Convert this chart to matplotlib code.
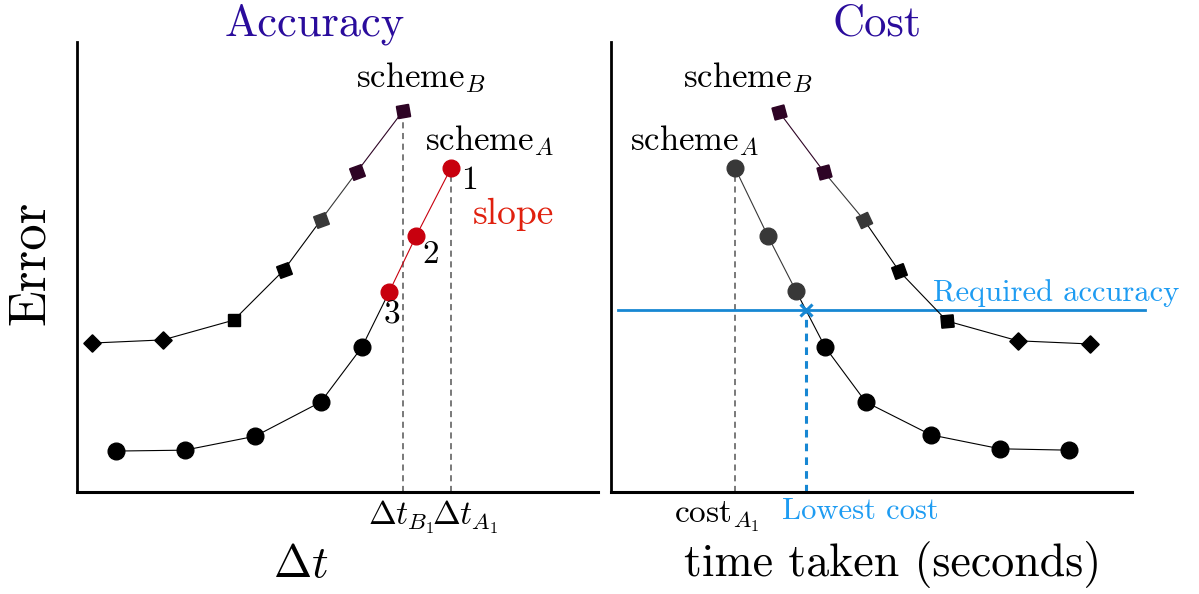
import matplotlib
matplotlib.use("Agg")
import matplotlib.pyplot as plt

plt.rcParams['font.family'] = 'serif'
plt.rcParams['font.serif'] = ['cmr10', 'DejaVu Serif']
plt.rcParams['mathtext.fontset'] = 'cm'
plt.rcParams['axes.unicode_minus'] = False

# colours
BLK = '#000000'
GRY = '#383838'
PUR = '#2e0425'
RED = '#c8000e'
TITLE = '#2a0c9c'
BLUE_LINE = '#1787d3'
BLUE_TXT = '#1e9cf2'

# ---- accuracy panel: error vs dt
acc_a_x = [0.75, 2.07, 3.42, 4.68, 5.47, 5.99, 6.51, 7.18]
acc_a_y = [0.91, 0.93, 1.24, 2.00, 3.22, 4.44, 5.69, 7.20]
acc_a_col = [BLK, BLK, BLK, BLK, BLK, RED, RED, RED]

acc_b_x = [0.29, 1.65, 3.01, 3.97, 4.68, 5.37, 6.26]
acc_b_y = [3.31, 3.38, 3.82, 4.93, 6.04, 7.11, 8.47]
acc_b_col = [BLK, BLK, BLK, BLK, GRY, PUR, PUR]
acc_b_rot = [45, 45, 0, 20, 20, 20, 10]

# ---- cost panel: error vs time taken
cost_a_x = [2.38, 3.01, 3.55, 4.11, 4.89, 6.14, 7.47, 8.79]
cost_a_y = [7.20, 5.69, 4.47, 3.22, 2.00, 1.27, 0.96, 0.93]
cost_a_col = [GRY, GRY, GRY, BLK, BLK, BLK, BLK, BLK]

cost_b_x = [3.23, 4.09, 4.86, 5.53, 6.45, 7.81, 9.19]
cost_b_y = [8.44, 7.11, 6.04, 4.91, 3.80, 3.36, 3.29]
cost_b_col = [PUR, PUR, GRY, BLK, BLK, BLK, BLK]
cost_b_rot = [15, 15, 25, 20, 5, 45, 45]

required_err = 4.04
required_span = [0.13, 10.25]
lowest_cost_x = 3.74

fig = plt.figure(figsize=(11.99, 5.94), dpi=100)
ax1 = fig.add_axes([0.0642, 0.1717, 0.4345, 0.7576])
ax2 = fig.add_axes([0.5096, 0.1717, 0.4345, 0.7576])

for ax in (ax1, ax2):
    ax.set_xlim(0, 10)
    ax.set_ylim(0, 10)
    ax.spines['top'].set_visible(False)
    ax.spines['right'].set_visible(False)
    ax.spines['left'].set_linewidth(2)
    ax.spines['bottom'].set_linewidth(2.2)
    ax.set_xticks([])
    ax.set_yticks([])


def draw_series(ax, xs, ys, cols, marker='o', rots=None, ms=12):
    # each segment takes the colour of its lower point
    for i in range(len(xs) - 1):
        lo = i if ys[i] < ys[i + 1] else i + 1
        ax.plot(xs[i:i + 2], ys[i:i + 2], color=cols[lo], lw=0.8, zorder=2)
    for i in range(len(xs)):
        m = marker if rots is None else (4, 0, 45 + rots[i])
        ax.plot(xs[i], ys[i], marker=m, ms=ms, color=cols[i], mec=cols[i],
                ls='none', zorder=3)


dash_kw = dict(color='#555555', lw=1.1, ls=(0, (4, 3)), zorder=1)

# accuracy panel
ax1.plot([acc_b_x[-1], acc_b_x[-1]], [0, acc_b_y[-1]], **dash_kw)
ax1.plot([acc_a_x[-1], acc_a_x[-1]], [0, acc_a_y[-1]], **dash_kw)
draw_series(ax1, acc_b_x, acc_b_y, acc_b_col, rots=acc_b_rot, ms=12.5)
draw_series(ax1, acc_a_x, acc_a_y, acc_a_col, ms=12)

ax1.text(6.6, 9.2, r'$\mathrm{scheme}_B$', fontsize=25, ha='center', va='center')
ax1.text(7.93, 7.82, r'$\mathrm{scheme}_A$', fontsize=25, ha='center', va='center')
ax1.text(7.54, 6.93, '1', fontsize=24, ha='center', va='center')
ax1.text(8.37, 6.16, 'slope', fontsize=27, color='#e0200e', ha='center', va='center')
ax1.text(6.79, 5.27, '2', fontsize=24, ha='center', va='center')
ax1.text(6.05, 3.93, '3', fontsize=24, ha='center', va='center')
ax1.text(6.22, -0.55, r'$\Delta t_{B_1}$', fontsize=24, ha='center', va='center')
ax1.text(7.45, -0.55, r'$\Delta t_{A_1}$', fontsize=24, ha='center', va='center')
ax1.text(0.43, -0.162, r'$\Delta t$', fontsize=33, ha='center', va='center',
         transform=ax1.transAxes)
ax1.text(-0.09, 0.51, 'Error', fontsize=38, ha='center', va='center',
         rotation=90, transform=ax1.transAxes)
ax1.text(0.457, 1.04, 'Accuracy', fontsize=32, color=TITLE, ha='center',
         va='center', transform=ax1.transAxes)

# cost panel
ax2.plot([cost_a_x[0], cost_a_x[0]], [0, cost_a_y[0]], **dash_kw)
ax2.plot(required_span, [required_err, required_err], color=BLUE_LINE, lw=2,
         clip_on=False, zorder=1)
ax2.plot([lowest_cost_x, lowest_cost_x], [0, required_err], color=BLUE_LINE,
         lw=2.2, ls=(0, (2.5, 2)), zorder=1)
draw_series(ax2, cost_b_x, cost_b_y, cost_b_col, rots=cost_b_rot, ms=12.5)
draw_series(ax2, cost_a_x, cost_a_y, cost_a_col, ms=12)
ax2.plot(lowest_cost_x, required_err, marker='x', ms=9, mew=2.2,
         color=BLUE_LINE, ls='none', zorder=4)

ax2.text(2.63, 9.2, r'$\mathrm{scheme}_B$', fontsize=25, ha='center', va='center')
ax2.text(1.61, 7.82, r'$\mathrm{scheme}_A$', fontsize=25, ha='center', va='center')
ax2.text(8.54, 4.42, 'Required accuracy', fontsize=22, color=BLUE_TXT,
         ha='center', va='center')
ax2.text(2.02, -0.55, r'$\mathrm{cost}_{A_1}$', fontsize=24, ha='center', va='center')
ax2.text(4.78, -0.42, 'Lowest cost', fontsize=22, color=BLUE_TXT,
         ha='center', va='center')
ax2.text(0.54, -0.162, 'time taken (seconds)', fontsize=33, ha='center',
         va='center', transform=ax2.transAxes)
ax2.text(0.51, 1.04, 'Cost', fontsize=32, color=TITLE, ha='center',
         va='center', transform=ax2.transAxes)

fig.savefig('out.png', dpi=100)
